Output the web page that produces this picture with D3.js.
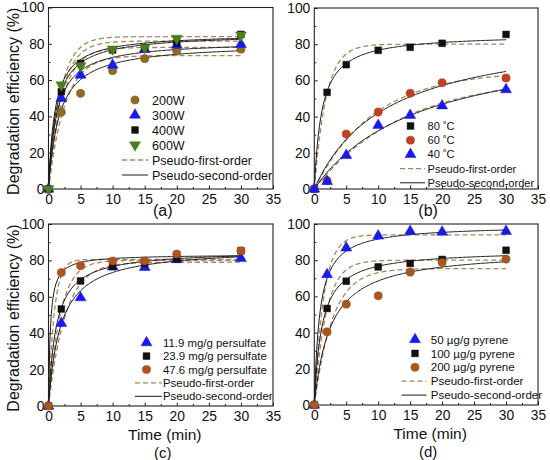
<!DOCTYPE html>
<html><head><meta charset="utf-8">
<script src="https://cdn.jsdelivr.net/npm/d3@7"></script>
<style>
body{margin:0;background:#fff;}
svg{display:block;font-family:"Liberation Sans",Arial,sans-serif;}
</style></head>
<body>
<svg id="c" width="550" height="460"></svg>
<script>
// ---------- data ----------
const times = [0, 2, 5, 10, 15, 20, 30];
const xTicks = [0, 5, 10, 15, 20, 25, 30, 35];
const yTicks = [0, 20, 40, 60, 80, 100];

// panel (a) : power
const aNames = ["200W", "300W", "400W", "600W"];
const a200 = [0, 42.3, 52.7, 65.2, 71.8, 76.0, 77.0];
const a300 = [0, 50.0, 62.8, 68.3, 77.0, 79.3, 79.7];
const a400 = [0, 53.6, 69.2, 76.6, 77.9, 80.6, 85.2];
const a600 = [0, 57.3, 67.8, 77.1, 77.9, 83.0, 84.8];
const aPfoQe = [73.5, 78, 81.5, 84], aPfoK = [0.39, 0.46, 0.49, 0.53];
const aPsoQe = [80.4, 81.7, 85.7, 85.8], aPsoK = [0.00746, 0.00967, 0.00992, 0.01154];

// panel (b) : temperature
const bNames = ["80 ˚C", "60 ˚C", "40 ˚C"];
const b80 = [0, 53.4, 68.7, 76.6, 78.3, 80.5, 85.4];
const b60 = [0, 4.6, 30.4, 42.5, 52.9, 58.7, 61.3];
const b40 = [0, 4.2, 18.6, 35.2, 40.7, 46.0, 54.9];
const bPfoQe = [80, 65.2, 62.0], bPfoK = [0.54, 0.108, 0.0726];
const bPsoQe = [85.7, 89.4, 85.9], bPsoK = [0.00992, 0.00099, 0.000697];

// panel (c) : persulfate dose
const cNames = ["11.9 mg/g persulfate", "23.9 mg/g persulfate", "47.6 mg/g persulfate"];
const c119 = [0, 45.4, 59.5, 76.5, 76.2, 80.5, 81.1];
const c239 = [0, 53.3, 68.7, 76.6, 78.4, 80.8, 85.3];
const c476 = [0, 73.3, 77.1, 79.7, 79.7, 83.5, 85.3];
const cPfoQe = [79, 80, 80.5], cPfoK = [0.38, 0.54, 1.12];
const cPsoQe = [87.1, 85.7, 83.3], cPsoK = [0.00613, 0.00992, 0.0427];

// panel (d) : pyrene concentration
const dNames = ["50 µg/g pyrene", "100 µg/g pyrene", "200 µg/g pyrene"];
const d50 = [0, 72.1, 86.8, 93.4, 96.0, 95.6, 96.0];
const d100 = [0, 53.3, 68.4, 76.3, 78.2, 80.4, 85.5];
const d200 = [0, 40.4, 55.7, 60.3, 73.4, 78.7, 80.6];
const dPfoQe = [94, 80, 75.4], dPfoK = [0.68, 0.54, 0.35];
const dPsoQe = [99.4, 85.7, 85.8], dPsoK = [0.01197, 0.00992, 0.00463];

// ---------- styles ----------
const BLUE = "#1a1ae6", GREEN = "#4b7d1c", BLACK = "#111";
const DASH = "#a8865e";

const panels = [
  { box: [48.5, 273, 7.5, 189], label: "(a)", xTitle: false, yTitle: true,
    series: [
      { name: aNames[0], v: a200, sym: "circle", col: "#8f6a24", pq: aPfoQe[0], pk: aPfoK[0], sq: aPsoQe[0], sk: aPsoK[0] },
      { name: aNames[1], v: a300, sym: "tri", col: BLUE, pq: aPfoQe[1], pk: aPfoK[1], sq: aPsoQe[1], sk: aPsoK[1] },
      { name: aNames[2], v: a400, sym: "square", col: BLACK, pq: aPfoQe[2], pk: aPfoK[2], sq: aPsoQe[2], sk: aPsoK[2] },
      { name: aNames[3], v: a600, sym: "trid", col: GREEN, pq: aPfoQe[3], pk: aPfoK[3], sq: aPsoQe[3], sk: aPsoK[3] }],
    leg: { sx: 135, tx: 152, y0: 100, dy: 15, lx0: 122, lx1: 148, fs: 12.5 } },
  { box: [314.3, 538, 8, 189], label: "(b)", xTitle: false, yTitle: false,
    series: [
      { name: bNames[0], v: b80, sym: "square", col: BLACK, pq: bPfoQe[0], pk: bPfoK[0], sq: bPsoQe[0], sk: bPsoK[0] },
      { name: bNames[1], v: b60, sym: "circle", col: "#c0401f", pq: bPfoQe[1], pk: bPfoK[1], sq: bPsoQe[1], sk: bPsoK[1] },
      { name: bNames[2], v: b40, sym: "tri", col: BLUE, pq: bPfoQe[2], pk: bPfoK[2], sq: bPsoQe[2], sk: bPsoK[2] }],
    leg: { sx: 410.5, tx: 427.5, y0: 126, dy: 14.2, lx0: 400, lx1: 425, fs: 11.1 } },
  { box: [48.5, 273, 224, 406], label: "(c)", xTitle: true, yTitle: true,
    series: [
      { name: cNames[0], v: c119, sym: "tri", col: BLUE, pq: cPfoQe[0], pk: cPfoK[0], sq: cPsoQe[0], sk: cPsoK[0] },
      { name: cNames[1], v: c239, sym: "square", col: BLACK, pq: cPfoQe[1], pk: cPfoK[1], sq: cPsoQe[1], sk: cPsoK[1] },
      { name: cNames[2], v: c476, sym: "circle", col: "#b4521f", pq: cPfoQe[2], pk: cPfoK[2], sq: cPsoQe[2], sk: cPsoK[2] }],
    leg: { sx: 146.5, tx: 163, y0: 342.7, dy: 13.4, lx0: 135, lx1: 162, fs: 11.4 } },
  { box: [314.3, 538, 224, 405], label: "(d)", xTitle: true, yTitle: false,
    series: [
      { name: dNames[0], v: d50, sym: "tri", col: BLUE, pq: dPfoQe[0], pk: dPfoK[0], sq: dPsoQe[0], sk: dPsoK[0] },
      { name: dNames[1], v: d100, sym: "square", col: BLACK, pq: dPfoQe[1], pk: dPfoK[1], sq: dPsoQe[1], sk: dPsoK[1] },
      { name: dNames[2], v: d200, sym: "circle", col: "#a8581f", pq: dPfoQe[2], pk: dPfoK[2], sq: dPsoQe[2], sk: dPsoK[2] }],
    leg: { sx: 415, tx: 430.7, y0: 339.5, dy: 13.9, lx0: 401.5, lx1: 426.5, fs: 11.6 } }
];

const svg = d3.select("#c");
const tFine = d3.range(0, 30.001, 0.2);
const pfo = (q, k) => t => q * (1 - Math.exp(-k * t));
const pso = (q, k) => t => q * q * k * t / (1 + q * k * t);

function symPath(sym) {
  if (sym === "circle") return d3.symbol(d3.symbolCircle, 52)();
  if (sym === "square") return d3.symbol(d3.symbolSquare, 46)();
  return d3.symbol(d3.symbolTriangle, 52)();
}
function drawSym(g, sym, col, x, y) {
  const p = g.append("path").attr("d", symPath(sym))
    .attr("fill", col).attr("stroke", sym === "circle" ? d3.color(col).darker(0.6) : col).attr("stroke-width", 0.5);
  p.attr("transform", `translate(${x},${y})` + (sym === "trid" ? " rotate(180)" : ""));
}

panels.forEach(P => {
  const [L, R, T, B] = P.box;
  const x = d3.scaleLinear().domain([0, 35]).range([L, R]);
  const y = d3.scaleLinear().domain([0, 100]).range([B, T]);
  const g = svg.append("g");

  // axes with inward ticks
  const xa = g.append("g").attr("transform", `translate(0,${B})`)
    .call(d3.axisBottom(x).tickValues(xTicks).tickSize(-3.5).tickPadding(5).tickFormat(d3.format("d")));
  const xm = g.append("g").attr("transform", `translate(0,${B})`)
    .call(d3.axisBottom(x).tickValues(d3.range(2.5, 35, 5)).tickSize(-2).tickFormat(""));
  const ya = g.append("g").attr("transform", `translate(${L},0)`)
    .call(d3.axisLeft(y).tickValues(yTicks).tickSize(-3.5).tickPadding(4).tickFormat(d3.format("d")));
  const ym = g.append("g").attr("transform", `translate(${L},0)`)
    .call(d3.axisLeft(y).tickValues(d3.range(10, 100, 20)).tickSize(-2).tickFormat(""));
  [xa, xm, ya, ym].forEach(a => {
    a.select(".domain").remove();
    a.selectAll("line").attr("stroke", "#222");
    a.selectAll("text").attr("font-size", 13.8).attr("fill", "#111")
      .attr("font-family", "Liberation Sans, Arial, sans-serif");
  });
  xa.selectAll("text").attr("dy", "0.75em");

  // frame
  g.append("rect").attr("x", L).attr("y", T).attr("width", R - L).attr("height", B - T)
    .attr("fill", "none").attr("stroke", "#222").attr("stroke-width", 1.1);

  // fitted curves
  const line = d3.line().x(d => x(d[0])).y(d => y(d[1]));
  const cg = g.append("g");
  P.series.forEach(s => {
    cg.append("path").datum(tFine.map(t => [t, pfo(s.pq, s.pk)(t)]))
      .attr("d", line).attr("fill", "none").attr("stroke", DASH)
      .attr("stroke-width", 1.3).attr("stroke-dasharray", "5,3");
  });
  P.series.forEach(s => {
    cg.append("path").datum(tFine.map(t => [t, pso(s.sq, s.sk)(t)]))
      .attr("d", line).attr("fill", "none").attr("stroke", "#1a1a1a").attr("stroke-width", 1);
  });

  // data points
  P.series.forEach(s => {
    s.v.forEach((v, i) => drawSym(g, s.sym, s.col, x(times[i]), y(v)));
  });

  // legend
  const lg = P.leg;
  P.series.forEach((s, i) => {
    const yy = lg.y0 + i * lg.dy;
    drawSym(g, s.sym, s.col, lg.sx, yy);
    g.append("text").attr("x", lg.tx).attr("y", yy).attr("dy", "0.36em")
      .attr("font-size", lg.fs).attr("fill", "#111").text(s.name);
  });
  const n = P.series.length;
  const y1 = lg.y0 + n * lg.dy, y2 = lg.y0 + (n + 1) * lg.dy;
  g.append("line").attr("x1", lg.lx0).attr("x2", lg.lx1).attr("y1", y1).attr("y2", y1)
    .attr("stroke", DASH).attr("stroke-width", 1.3).attr("stroke-dasharray", "5,3");
  g.append("text").attr("x", lg.tx).attr("y", y1).attr("dy", "0.36em")
    .attr("font-size", lg.fs).attr("fill", "#111").text("Pseudo-first-order");
  g.append("line").attr("x1", lg.lx0).attr("x2", lg.lx1).attr("y1", y2).attr("y2", y2)
    .attr("stroke", "#1a1a1a").attr("stroke-width", 1);
  g.append("text").attr("x", lg.tx).attr("y", y2).attr("dy", "0.36em")
    .attr("font-size", lg.fs).attr("fill", "#111").text("Pseudo-second-order");

  // titles
  const cx = (L + R) / 2 + 2;
  if (P.yTitle) {
    g.append("text").attr("transform", `translate(19,${(T + B) / 2 + 3}) rotate(-90)`)
      .attr("text-anchor", "middle").attr("font-size", 16).attr("fill", "#111")
      .text("Degradation efficiency (%)");
  }
  let labY = B + 27, labFs = 16;
  if (P.xTitle) {
    g.append("text").attr("x", cx + 2).attr("y", B + 34).attr("text-anchor", "middle")
      .attr("font-size", 15.5).attr("fill", "#111").text("Time (min)");
    labY = B + 51.5; labFs = 15;
  }
  g.append("text").attr("x", cx).attr("y", labY).attr("text-anchor", "middle")
    .attr("font-size", labFs).attr("fill", "#111").text(P.label);
});
</script>
</body></html>
